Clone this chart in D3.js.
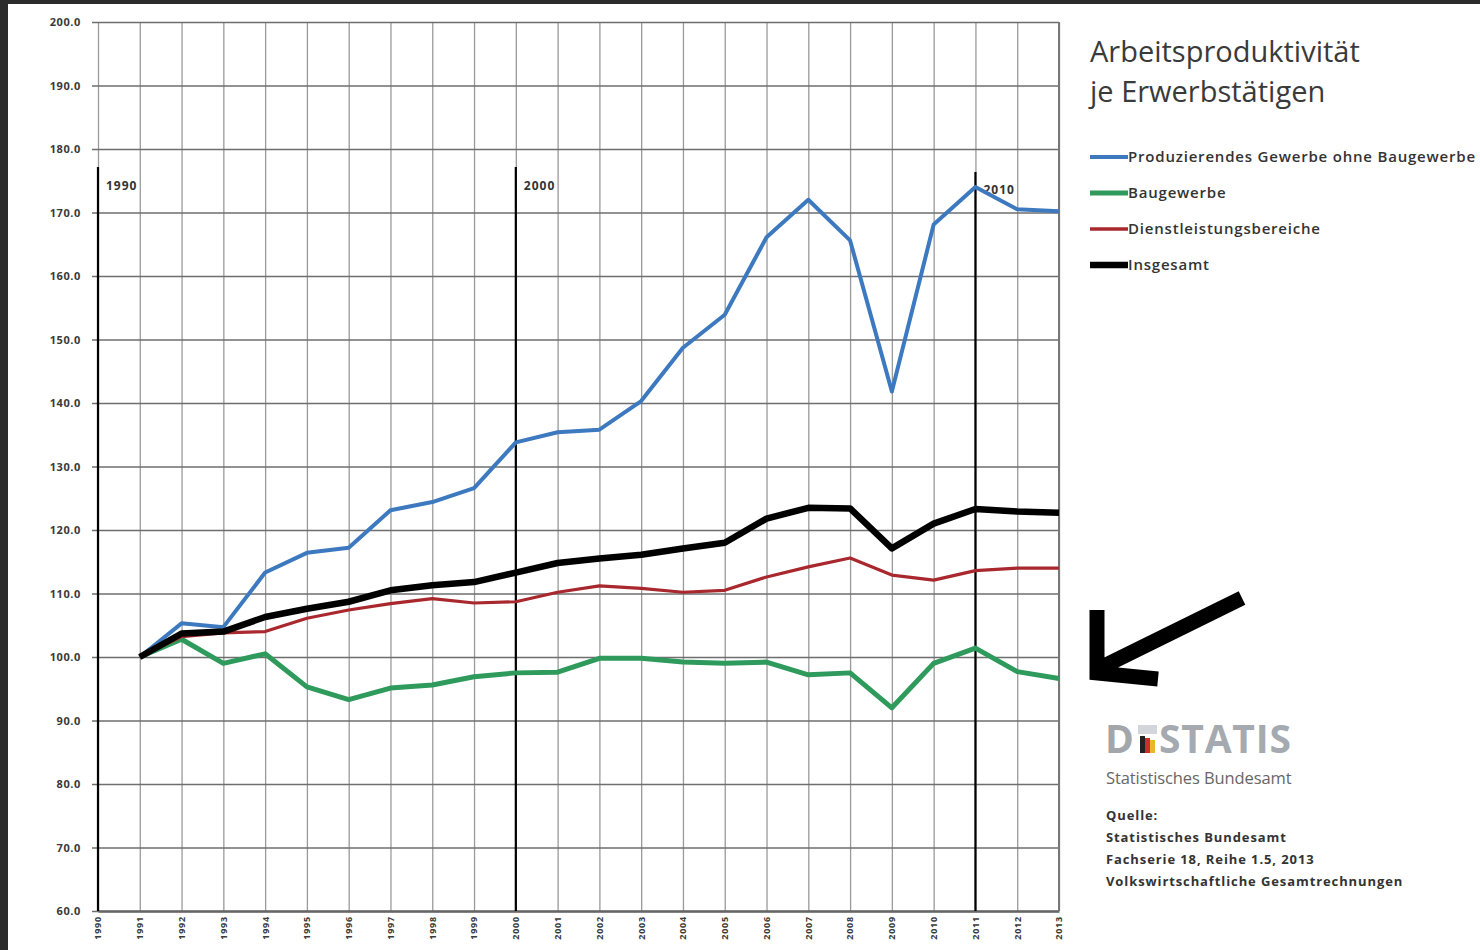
<!DOCTYPE html>
<html>
<head>
<meta charset="utf-8">
<script src="https://cdn.jsdelivr.net/npm/d3@7"></script>
<style>
  body { margin: 0; background: #fff; }
  text { font-family: "Open Sans", "Liberation Sans", sans-serif; }
</style>
</head>
<body>
<div id="chart"></div>
<script>
// Data (Index, 1991 = 100)
const years = [1991, 1992, 1993, 1994, 1995, 1996, 1997, 1998, 1999, 2000, 2001, 2002,
  2003, 2004, 2005, 2006, 2007, 2008, 2009, 2010, 2011, 2012, 2013];
const tickYears = [1990, 1991, 1992, 1993, 1994, 1995, 1996, 1997, 1998, 1999, 2000, 2001,
  2002, 2003, 2004, 2005, 2006, 2007, 2008, 2009, 2010, 2011, 2012, 2013];
const yTicks = [60, 70, 80, 90, 100, 110, 120, 130, 140, 150, 160, 170, 180, 190, 200];

const produzierend = [100, 105.3, 104.7, 113.3, 116.4, 117.2, 123.1, 124.4, 126.6, 133.8, 135.4, 135.8,
  140.3, 148.7, 153.9, 166.1, 172.0, 165.6, 141.8, 168.1, 174.0, 170.5, 170.2];
const baugewerbe = [100, 102.8, 99.0, 100.5, 95.3, 93.3, 95.1, 95.6, 96.9, 97.5, 97.6, 99.8,
  99.8, 99.2, 99.0, 99.2, 97.2, 97.5, 92.0, 99.0, 101.4, 97.7, 96.6];
const dienstleistung = [100, 103.2, 103.8, 104.0, 106.1, 107.4, 108.4, 109.2, 108.5, 108.7, 110.2, 111.2,
  110.8, 110.2, 110.5, 112.6, 114.2, 115.6, 112.9, 112.1, 113.6, 114.0, 114.0];
const insgesamt = [100, 103.7, 104.0, 106.3, 107.6, 108.7, 110.5, 111.3, 111.8, 113.3, 114.8, 115.5,
  116.1, 117.1, 118.0, 121.8, 123.5, 123.4, 117.1, 121.0, 123.3, 122.9, 122.7];

const seriesNames = ["Produzierendes Gewerbe ohne Baugewerbe", "Baugewerbe",
  "Dienstleistungsbereiche", "Insgesamt"];

// decade markers as they sit in the picture (label, year of the line)
const markerLabels = ["1990", "2000", "2010"];
const markerYears = [1990, 2000, 2011];

const sourceLines = ["Quelle:", "Statistisches Bundesamt", "Fachserie 18, Reihe 1.5, 2013",
  "Volkswirtschaftliche Gesamtrechnungen"];

const width = 1480, height = 950;
const svg = d3.select("#chart").append("svg")
  .attr("width", width)
  .attr("height", height);

// dark frame strips at the top and left of the screenshot
svg.append("rect").attr("x", 0).attr("y", 0).attr("width", width).attr("height", 4).attr("fill", "#2b2b2b");
svg.append("rect").attr("x", 0).attr("y", 0).attr("width", 8).attr("height", height).attr("fill", "#2b2b2b");

const x = d3.scaleLinear().domain([1990, 2013]).range([98, 1059]);
const y = d3.scaleLinear().domain([60, 200]).range([911, 22]);

// vertical grid (one line per year)
svg.append("g")
  .attr("transform", `translate(0,${y(60)})`)
  .call(d3.axisBottom(x).tickValues(tickYears).tickSize(-(y(60) - y(200))).tickFormat(""))
  .call(g => g.select(".domain").remove())
  .call(g => g.selectAll(".tick line").attr("stroke", "#9a9a9a").attr("stroke-width", 1.3));

// horizontal grid + y labels
svg.append("g")
  .attr("transform", `translate(${x(2013)},0)`)
  .call(d3.axisLeft(y).tickValues(yTicks).tickSize(x(2013) - x(1990) + 6).tickPadding(11)
    .tickFormat(d3.format(".1f")))
  .call(g => g.select(".domain").remove())
  .call(g => g.selectAll(".tick line").attr("stroke", "#6e6e6e").attr("stroke-width", 1.4))
  .call(g => g.selectAll(".tick text")
    .attr("fill", "#3a3a3a").attr("font-size", 11).attr("font-weight", "bold")
    .attr("letter-spacing", 0.6));

// x labels, rotated
svg.append("g")
  .attr("transform", `translate(0,${y(60)})`)
  .call(d3.axisBottom(x).tickValues(tickYears).tickSize(0).tickFormat(d3.format("d")))
  .call(g => g.select(".domain").attr("stroke", "#666").attr("stroke-width", 2.5))
  .call(g => g.selectAll(".tick text")
    .attr("transform", "rotate(-90)")
    .attr("text-anchor", "end")
    .attr("x", -5).attr("y", 0).attr("dy", "0.32em")
    .attr("fill", "#3a3a3a").attr("font-size", 9).attr("font-weight", "bold")
    .attr("letter-spacing", 0.8));

// right border of plot
svg.append("line")
  .attr("x1", x(2013)).attr("x2", x(2013)).attr("y1", y(200)).attr("y2", y(60))
  .attr("stroke", "#777").attr("stroke-width", 2);

// decade marker lines
const markers = svg.append("g");
markerYears.forEach((yr, i) => {
  markers.append("line")
    .attr("x1", x(yr)).attr("x2", x(yr))
    .attr("y1", i === 2 ? 172 : 167).attr("y2", y(60))
    .attr("stroke", "#000").attr("stroke-width", 2.2);
  markers.append("text")
    .attr("x", x(yr) + 8).attr("y", i === 2 ? 194 : 190)
    .attr("font-size", 12).attr("font-weight", "bold").attr("fill", "#333")
    .attr("letter-spacing", 1)
    .text(markerLabels[i]);
});

// series lines
const line = d3.line().x((d, i) => x(years[i])).y(d => y(d));
const series = [
  { name: seriesNames[1], values: baugewerbe, color: "#2e9a5c", w: 5 },
  { name: seriesNames[2], values: dienstleistung, color: "#a8282e", w: 3.2 },
  { name: seriesNames[0], values: produzierend, color: "#3d79bf", w: 4 },
  { name: seriesNames[3], values: insgesamt, color: "#000000", w: 6.5 }
];
svg.append("g").selectAll("path")
  .data(series)
  .join("path")
  .attr("d", d => line(d.values))
  .attr("fill", "none")
  .attr("stroke", d => d.color)
  .attr("stroke-width", d => d.w)
  .attr("stroke-linejoin", "round");

// title
const title = svg.append("text").attr("x", 1090).attr("font-size", 29).attr("fill", "#3a3a3a");
title.append("tspan").attr("x", 1090).attr("y", 62).text("Arbeitsproduktivität");
title.append("tspan").attr("x", 1090).attr("y", 102).text("je Erwerbstätigen");

// legend
const legendOrder = [
  { name: seriesNames[0], color: "#3d79bf", w: 4 },
  { name: seriesNames[1], color: "#2e9a5c", w: 5 },
  { name: seriesNames[2], color: "#a8282e", w: 3.5 },
  { name: seriesNames[3], color: "#000000", w: 6.5 }
];
const legend = svg.append("g").selectAll("g")
  .data(legendOrder)
  .join("g")
  .attr("transform", (d, i) => `translate(1090,${157 + i * 36})`);
legend.append("line")
  .attr("x1", 0).attr("x2", 38)
  .attr("stroke", d => d.color).attr("stroke-width", d => d.w);
legend.append("text")
  .attr("x", 38).attr("dy", "0.35em")
  .attr("font-size", 15).attr("font-weight", 600).attr("fill", "#333")
  .attr("letter-spacing", 0.8)
  .text(d => d.name);

// arrow annotation
svg.append("path")
  .attr("d", "M1242,598 L1102,667 M1097,610 L1097,673 L1158,679")
  .attr("fill", "none").attr("stroke", "#000").attr("stroke-width", 15)
  .attr("stroke-linejoin", "miter");

// DESTATIS logo
const logo = svg.append("g").attr("transform", "translate(1105,753)");
logo.append("text").attr("x", 0).attr("y", 0)
  .attr("font-size", 39).attr("font-weight", "bold").attr("fill", "#a3a6aa").text("D");
const flag = ["#222", "#c8302c", "#e8b82a"];
flag.forEach((c, i) => {
  logo.append("rect").attr("x", 35 + i * 5).attr("y", -17 + i * 2).attr("width", 5).attr("height", 17 - i * 2)
    .attr("fill", c);
});
logo.append("rect").attr("x", 33).attr("y", -28).attr("width", 19).attr("height", 9).attr("fill", "#d2d6db");
logo.append("text").attr("x", 54).attr("y", 0)
  .attr("font-size", 39).attr("font-weight", "bold").attr("fill", "#a5aab1")
  .attr("letter-spacing", 0.8).text("STATIS");
svg.append("text").attr("x", 1106).attr("y", 784)
  .attr("font-size", 16.5).attr("fill", "#666").attr("letter-spacing", -0.1)
  .text("Statistisches Bundesamt");

// source
svg.append("g").selectAll("text")
  .data(sourceLines)
  .join("text")
  .attr("x", 1106).attr("y", (d, i) => 820 + i * 22)
  .attr("font-size", 13).attr("font-weight", "bold").attr("fill", "#333")
  .attr("letter-spacing", 0.9)
  .text(d => d);
</script>
</body>
</html>
